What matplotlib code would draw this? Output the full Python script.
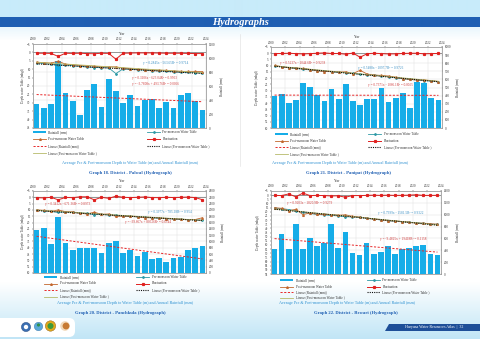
import numpy as np
import matplotlib
matplotlib.use('Agg')
import matplotlib.pyplot as plt
from matplotlib.patches import Rectangle, Polygon, Circle, FancyBboxPatch

W, H = 480, 339
plt.rcParams['font.family'] = ['Liberation Serif', 'DejaVu Serif']

years = list(range(2000, 2024))
year_ticks = list(range(2000, 2025, 2))

# ---- Palwal (Graph 18) ----
palwal_rain = [340, 282, 349, 961, 502, 382, 182, 540, 626, 301, 698, 526,
               358, 468, 311, 397, 421, 292, 378, 292, 478, 507, 387, 263]
palwal_pre = [6.3, 6.6, 7.0, 7.6, 7.5, 7.9, 8.3, 8.7, 9.0, 9.1, 9.2, 12.6,
              9.8, 10.0, 10.3, 10.6, 10.8, 11.0, 11.2, 11.5, 11.8, 11.9, 12.0, 12.2]
palwal_post = [5.8, 6.1, 6.4, 5.2, 7.0, 7.3, 7.8, 8.0, 8.2, 8.6, 8.6, 8.6,
               9.3, 9.6, 10.0, 10.3, 10.5, 10.6, 10.7, 11.0, 11.3, 11.3, 11.3, 11.5]
palwal_fluct = [0.5, 0.5, 0.6, 2.4, 0.5, 0.6, 0.5, 0.7, 0.8, 0.5, 0.6, 4.0,
                0.5, 0.4, 0.3, 0.3, 0.3, 0.4, 0.5, 0.5, 0.5, 0.6, 0.7, 0.7]

# ---- Panipat (Graph 21) ----
panipat_rain = [396, 420, 314, 347, 559, 510, 404, 339, 478, 363, 539, 331,
                282, 359, 359, 490, 318, 367, 437, 253, 567, 559, 376, 347]
panipat_pre = [10.1, 10.9, 11.7, 12.2, 12.8, 13.4, 14.1, 14.4, 14.9, 15.3, 15.7, 16.1,
               16.9, 17.1, 17.5, 18.1, 18.9, 19.7, 20.5, 21.0, 21.5, 22.0, 22.3, 22.9]
panipat_fluct = [0.3, 0.2, 0.0, 0.3, 0.6, 0.3, 0.0, -0.3, 0.2, 0.2, 0.8, -0.2,
                 3.2, 0.4, 0.0, 0.3, 0.6, 0.5, 0.2, 0.0, 0.0, 0.5, 0.3, 0.2]
panipat_post = [9.8, 10.7, 11.7, 11.9, 12.2, 13.1, 14.1, 14.7, 14.7, 15.1, 14.9, 16.3,
                13.7, 16.7, 17.5, 17.8, 18.3, 19.2, 20.3, 21.0, 21.5, 21.5, 22.0, 22.7]

# ---- Panchkula (Graph 20) ----
panchkula_rain = [1363, 1436, 922, 1761, 943, 734, 807, 797, 786, 650, 943, 1017,
                  629, 734, 545, 660, 440, 472, 335, 472, 493, 734, 797, 860]
panchkula_pre = [10.3, 10.8, 11.2, 12.0, 11.5, 11.8, 12.3, 12.8, 13.8, 13.5, 14.0, 14.2,
                 14.9, 15.2, 15.5, 15.9, 16.3, 16.6, 16.9, 17.2, 17.4, 17.6, 17.8, 18.1]
panchkula_fluct = [0.3, 0.5, 0.0, 2.0, 0.1, 0.3, -0.4, -0.4, 2.0, 0.0, 0.8, -0.9,
                   0.0, 0.2, 0.0, -0.3, 0.2, 0.3, 0.0, 0.2, 0.0, -0.2, 0.2, 1.9]
panchkula_post = [10.0, 10.3, 11.2, 10.0, 11.4, 11.5, 12.7, 13.2, 11.8, 13.5, 13.2, 15.1,
                  14.9, 15.0, 15.5, 16.2, 16.1, 16.3, 16.9, 17.0, 17.4, 17.8, 17.6, 16.2]

# ---- Rewari (Graph 22) ----
rewari_rain = [429, 669, 418, 837, 418, 613, 474, 530, 842, 446, 703, 351,
               318, 530, 335, 379, 480, 335, 424, 435, 480, 491, 335, 318]
rewari_pre = [15.5, 16.3, 17.3, 19.0, 20.9, 22.0, 23.3, 23.8, 24.5, 25.0, 26.2, 26.0,
              26.9, 27.9, 28.9, 29.9, 30.9, 31.4, 32.0, 32.6, 33.2, 34.0, 34.8, 35.2]
rewari_fluct = [0.3, 0.5, -1.5, 2.0, -2.5, 0.5, 0.3, 0.5, 1.0, 0.8, 2.5, 0.5,
                0.5, 0.3, 0.0, 0.3, 0.0, 0.3, 0.2, 0.0, -0.5, 0.3, 0.3, 0.2]
rewari_post = [15.2, 15.8, 18.8, 17.0, 23.4, 21.5, 23.0, 23.3, 23.5, 24.2, 23.7, 25.5,
               26.4, 27.6, 28.9, 29.6, 30.9, 31.1, 31.8, 32.6, 33.7, 33.7, 34.5, 35.0]

legend_labels = ['Rainfall (mm)', 'Pre-monsoon Water Table', 'Post-monsoon Water Table',
                 'Fluctuation', 'Linear (Rainfall (mm))', 'Linear (Pre-monsoon Water Table )',
                 'Linear (Post-monsoon Water Table )']
caption = 'Average Pre & Post-monsoon Depth to Water Table (m) and Annual Rainfall (mm)'

BAR = '#16ade8'
PRE = '#2e9aa6'
POST = '#c2662c'
FLUCT = '#e0201f'
LRAIN = '#e8282a'
LPRE = '#111111'
LPOST = '#b7ba6a'
TXT = '#333333'

fig = plt.figure(figsize=(4.8, 3.39), dpi=100)
bg = fig.add_axes([0, 0, 1, 1])
bg.set_zorder(-5)
bg.set_xlim(0, W)
bg.set_ylim(H, 0)
bg.axis('off')

# page background gradient
img = np.ones((H, 1, 3))
def hexrgb(h):
    h = h.lstrip('#')
    return np.array([int(h[i:i + 2], 16) / 255 for i in (0, 2, 4)])
top = hexrgb('#c8ebfa')
bar_c = hexrgb('#1f5fb3')
bot = hexrgb('#c0e5f6')
white = np.array([1.0, 1.0, 1.0])
for r in range(H):
    if r < 17:
        img[r, 0] = top
    elif r < 27:
        img[r, 0] = bar_c
    elif r < 40:
        t = (r - 27) / 13
        img[r, 0] = hexrgb('#eaf7fd') * (1 - t) + white * t
    elif r < 282:
        img[r, 0] = white
    else:
        t = (r - 282) / (H - 282)
        img[r, 0] = white * (1 - t) + bot * t
bg.imshow(img, extent=[0, W, H, 0], aspect='auto', interpolation='bilinear')

bg.text(240, 22.2, 'Hydrographs', color='white', fontsize=7.5, fontweight='bold',
        fontstyle='italic', ha='center', va='center')
bg.plot([240, 240], [34, 166], color='#dddddd', lw=0.4)

# footer
bg.add_patch(FancyBboxPatch((-10, 318), 85, 19, boxstyle='round,pad=0,rounding_size=6',
                            fc='white', ec='none'))
bg.add_patch(Circle((26, 327), 4.6, fc='#3b6fb2', ec='#1c3f77', lw=0.3))
bg.add_patch(Circle((26, 327), 2.2, fc='white', ec='none'))
bg.add_patch(Circle((38.5, 326.5), 4.2, fc='#5aa9d8', ec='#2d6da8', lw=0.3))
bg.add_patch(Circle((38.5, 325), 1.6, fc='#2f8f4a', ec='none'))
bg.add_patch(Circle((50.5, 326), 5.2, fc='#e0a81c', ec='#8a5a10', lw=0.3))
bg.add_patch(Circle((50.5, 326), 3.0, fc='#3d9a3a', ec='none'))
bg.add_patch(Circle((65, 326), 4.8, fc='#f2d9b8', ec='none'))
bg.add_patch(Circle((66, 326), 3.4, fc='#c77a32', ec='none'))
bg.add_patch(Polygon([[389, 323.5], [480, 323.5], [480, 330.5], [385, 330.5]],
                     closed=True, fc='#1e4f98', ec='none'))
bg.text(434, 327, 'Haryana Water Resources Atlas  |  32', color='white', fontsize=2.9,
        ha='center', va='center')

x_idx = np.arange(len(years)) + 0.5
yr = np.array(years, dtype=float)


def chart(rect, rain, pre, post, fluct, dlim, rlim, rstep, year_xy, lab_l, lab_r,
          legend_pos, cap_xy, title, title_xy, eqs):
    x0, y0, x1, y1 = rect
    ax = fig.add_axes([x0 / W, 1 - y1 / H, (x1 - x0) / W, (y1 - y0) / H])
    ax.set_axisbelow(True)
    ax.bar(x_idx, rain, width=0.8, color=BAR, zorder=2)
    # rainfall trend
    c = np.polyfit(yr, rain, 1)
    ax.plot([x_idx[0], x_idx[-1]], np.polyval(c, [yr[0], yr[-1]]), color=LRAIN,
            lw=0.7, ls=(0, (2.2, 1.6)), zorder=3)
    ax.set_xlim(0, 24)
    ax.set_ylim(0, rlim)
    ax.set_yticks(np.arange(0, rlim + 1, rstep))
    ax.set_xticks(np.arange(0, 25, 2))
    ax.set_xticklabels([str(t) for t in year_ticks])
    ax.xaxis.tick_top()
    ax.grid(True, color='#dcdcdc', lw=0.3)
    ax2 = ax.twinx()
    ax.yaxis.tick_right()
    ax2.yaxis.tick_left()
    dmin, dmax = dlim
    ax2.set_ylim(dmax, dmin)
    ax2.set_yticks(np.arange(dmin, dmax + 0.1, 5))
    ax2.axhline(0, color='#6a6a6a', lw=0.5, zorder=1)
    cp = np.polyfit(yr, pre, 1)
    cq = np.polyfit(yr, post, 1)
    ax2.plot(x_idx, pre, color=PRE, lw=0.6, marker='D', ms=0.9, zorder=3)
    ax2.plot(x_idx, post, color=POST, lw=0.6, marker='^', ms=1.2, zorder=3)
    ax2.plot([x_idx[0], x_idx[-1]], np.polyval(cq, [yr[0], yr[-1]]), color=LPOST, lw=0.6, zorder=4)
    ax2.plot([x_idx[0], x_idx[-1]], np.polyval(cp, [yr[0], yr[-1]]), color=LPRE, lw=0.8,
             ls=(0, (1, 1)), zorder=4)
    ax2.plot(x_idx, fluct, color=FLUCT, lw=0.7, marker='s', ms=1.3, zorder=4)
    for a in (ax, ax2):
        a.tick_params(labelsize=2.3, length=1, width=0.3, pad=0.8, colors=TXT)
        for s in a.spines.values():
            s.set_linewidth(0.4)
            s.set_color('#9a9a9a')
    for txt, ex, ey, col in eqs:
        ax2.text(ex, ey, txt, transform=bg.transData, fontsize=2.4, color=col,
                 ha='left', va='center', zorder=6)
    bg.text(year_xy[0], year_xy[1], 'Year', fontsize=2.5, ha='center', va='center', color=TXT)
    bg.text(lab_l, (y0 + y1) / 2, 'Depth water Table (mbgl)', fontsize=2.4, rotation=90,
            ha='center', va='center', color=TXT)
    bg.text(lab_r, (y0 + y1) / 2, 'Rainfall (mm)', fontsize=2.4, rotation=90,
            ha='center', va='center', color=TXT)
    # legend
    (lxh, rxh, rows) = legend_pos
    cols = [lxh, rxh]
    styles = [
        dict(kind='bar'),
        dict(color=PRE, lw=0.6, marker='D', ms=0.9),
        dict(color=POST, lw=0.6, marker='^', ms=1.2),
        dict(color=FLUCT, lw=0.7, marker='s', ms=1.3),
        dict(color=LRAIN, lw=0.7, ls=(0, (2.2, 1.6))),
        dict(color=LPRE, lw=0.8, ls=(0, (1, 1))),
        dict(color=LPOST, lw=0.6),
    ]
    for i, (lab, st) in enumerate(zip(legend_labels, styles)):
        r, cidx = divmod(i, 2)
        xh, y = cols[cidx], rows[r]
        hw = 13
        if st.get('kind') == 'bar':
            bg.add_patch(Rectangle((xh, y - 1.1), hw, 2.2, color=BAR, lw=0))
        else:
            bg.plot([xh, xh + hw / 2, xh + hw], [y, y, y], markevery=[1], **st)
        bg.text(xh + hw + 2.5, y, lab, fontsize=2.4, ha='left', va='center', color=TXT)
    bg.text(cap_xy[0], cap_xy[1], caption, fontsize=3.0, color='#2b8fd1',
            ha='center', va='center')
    bg.text(title_xy[0], title_xy[1], title, fontsize=3.3, color='#1f5fb3',
            fontweight='bold', ha='center', va='center')


RED_T = '#cf3b3b'
BLUE_T = '#3a8fc4'

chart((33, 44, 206, 128), palwal_rain, palwal_pre, palwal_post, palwal_fluct,
      (-5, 45), 1200, 200, (122, 34), 23, 221,
      (33, 147, [132, 139, 146, 153]), (130, 163),
      'Graph 18. District - Palwal (Hydrograph)', (130, 172.7),
      [('y = 0.2845x - 563.65R² = 0.9714', 143, 63, BLUE_T),
       ('y = 0.3106x - 623.04R² = 0.9503', 132, 78, RED_T),
       ('y = -3.7808x + 493.76R² = 0.0056', 132, 84, RED_T)])

chart((271, 47, 442, 128), panipat_rain, panipat_pre, panipat_post, panipat_fluct,
      (-5, 60), 1000, 100, (357, 37), 257, 457,
      (275, 368, [134, 141, 147, 154]), (340, 163),
      'Graph 21. District - Panipat (Hydrograph)', (349, 172.7),
      [('y = 0.5237x - 1044.6R² = 0.9238', 280, 63, RED_T),
       ('y = 0.5488x - 1097.7R² = 0.9726', 358, 68, BLUE_T),
       ('y = 0.7371x - 1066.1R² = 0.0025', 368, 85, RED_T)])

chart((33, 191, 206, 273), panchkula_rain, panchkula_pre, panchkula_post, panchkula_fluct,
      (-5, 60), 2600, 200, (122, 181), 23, 222,
      (44, 136, [277, 283.5, 290, 296.5]), (125, 303),
      'Graph 20. District - Panchkula (Hydrograph)', (120, 313),
      [('y = 0.3412x - 671.36R² = 0.8973', 45, 204, RED_T),
       ('y = 0.3977x - 785.18R² = 0.954', 148, 212, BLUE_T),
       ('y = -39.667x + 80526R² = 0.6544', 125, 222, RED_T)])

chart((271, 191, 441, 274), rewari_rain, rewari_pre, rewari_post, rewari_fluct,
      (-5, 95), 1400, 200, (337, 181.5), 258, 457,
      (280, 367, [280, 286.5, 292, 297.5]), (347, 303),
      'Graph 22. District - Rewari (Hydrograph)', (356, 313),
      [('y = 0.9203x - 1820.9R² = 0.9279', 287, 203, RED_T),
       ('y = 0.7999x - 1581.5R² = 0.9322', 378, 213, BLUE_T),
       ('y = -9.4825x + 19418R² = 0.1158', 380, 239, RED_T)])

fig.savefig('out.png', dpi=100)
